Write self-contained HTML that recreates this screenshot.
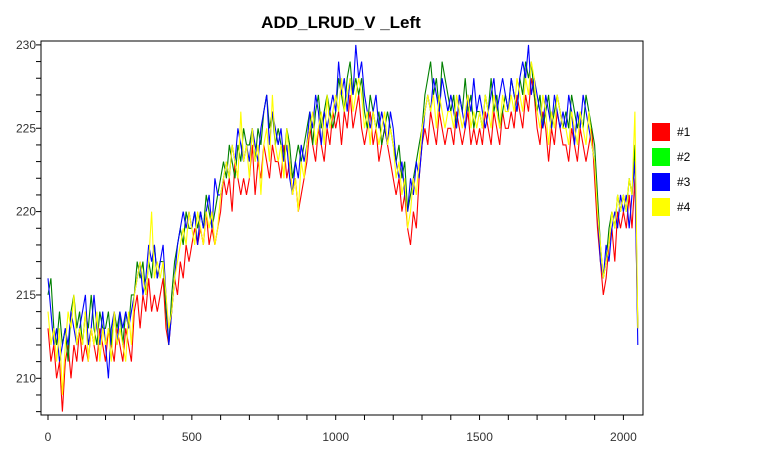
<!DOCTYPE html>
<html><head><meta charset="utf-8"><style>
body{margin:0;background:#fff;width:758px;height:450px;overflow:hidden;font-family:"Liberation Sans",sans-serif}
</style></head><body>
<svg id="c" width="758" height="450" xmlns="http://www.w3.org/2000/svg"></svg>
<script>
const step = 10;
const lastX = 2050;
const series1 = [213,211,212,210,211,208,211,212,210,212,
211,213,211,212,211,213,212,211,213,212,
211,213,212,211,213,212,211,213,212,211,
214,215,213,215,214,216,214,215,214,215,
216,213,212,214,216,215,217,216,218,217,
218,219,218,219,218,220,218,219,218,219,
220,222,221,222,220,223,222,221,222,221,
222,224,221,223,222,224,223,222,224,223,
223,222,224,222,223,221,222,220,221,222,
223,225,224,223,225,224,223,225,224,226,
225,226,224,226,225,227,225,226,227,225,
224,225,226,224,225,223,224,225,224,223,
222,221,222,220,221,219,218,220,219,222,
224,225,224,226,225,224,226,225,224,225,
225,224,226,225,224,225,226,224,225,224,
225,224,226,225,224,226,225,224,226,225,
225,226,225,227,226,225,227,226,228,227,
225,224,226,225,223,225,224,226,225,224,
224,223,225,224,223,225,224,223,224,225,
222,219,217,215,216,218,219,217,220,219,
220,219,221,219,222,213];
const series2 = [215,216,213,212,214,212,213,211,214,215,
213,214,212,214,213,215,213,212,214,213,
213,214,212,214,213,214,212,214,213,215,
215,217,216,217,215,217,216,218,216,217,
217,214,212,215,217,218,219,218,220,219,
219,220,219,220,219,221,220,219,220,221,
222,223,222,224,223,222,224,223,225,224,
224,225,223,225,224,226,227,225,226,224,
225,224,223,225,224,222,223,224,223,224,
225,226,224,226,227,225,226,227,226,225,
226,228,227,226,228,229,227,228,227,228,
226,225,227,226,225,226,224,225,226,225,
224,223,224,222,223,220,221,222,223,224,
225,227,228,229,227,228,226,229,228,227,
226,227,225,227,226,228,226,227,225,226,
226,225,227,226,228,226,227,225,226,227,
226,228,227,226,228,227,229,228,229,227,
226,227,225,226,227,225,226,227,226,225,
226,225,227,226,225,226,225,227,226,225,
224,221,218,216,217,219,220,219,221,220,
221,220,222,221,224,213];
const series3 = [216,214,212,213,211,212,213,212,214,213,
212,213,214,215,212,213,215,213,212,214,
212,210,213,214,212,214,213,214,213,214,
215,216,217,215,216,218,217,218,216,217,
218,215,212,214,216,218,219,220,219,220,
219,220,218,220,219,220,221,219,222,221,
221,222,223,222,224,223,225,224,223,224,
223,225,224,223,225,226,227,224,226,225,
224,225,223,224,222,221,223,222,224,223,
224,226,225,227,226,224,226,225,226,227,
226,229,227,228,226,228,227,230,228,229,
227,226,225,226,227,225,226,225,224,226,
225,223,222,223,221,220,222,221,223,222,
224,226,227,226,228,227,226,228,227,226,
227,226,225,227,226,225,227,226,228,226,
227,226,225,226,227,228,226,227,228,227,
226,228,227,226,228,229,228,230,227,228,
227,226,225,227,226,225,227,226,225,226,
225,227,226,224,226,225,227,226,225,224,
223,220,217,216,218,217,219,220,219,221,
220,221,219,221,223,212];
const series4 = [214,212,213,211,213,209,212,214,213,215,
212,213,212,214,211,213,212,214,211,213,
212,213,211,214,212,213,212,211,214,212,
215,216,217,216,215,217,220,216,217,216,
217,215,213,214,216,217,218,219,218,220,
219,218,220,219,218,220,219,220,218,219,
221,222,223,222,224,223,222,226,223,224,
222,225,223,224,221,224,225,223,227,224,
223,224,222,225,223,221,222,220,223,222,
224,225,226,224,225,226,224,227,225,226,
227,226,228,226,227,228,226,227,228,227,
225,226,224,226,225,224,225,226,224,225,
224,222,223,221,222,219,220,222,221,223,
225,226,227,226,227,225,227,226,225,226,
226,225,227,226,225,226,227,225,226,225,
226,225,227,226,225,227,226,225,227,226,
226,227,226,228,227,226,228,227,229,228,
226,225,227,226,224,226,225,227,226,225,
225,224,226,225,224,226,225,224,226,224,
223,220,218,216,217,218,220,219,221,220,
221,220,222,221,226,213];
const xTicks = [0,500,1000,1500,2000];
const yTicks = [210,215,220,225,230];
const seriesNames = ['#1','#2','#3','#4'];

const NS='http://www.w3.org/2000/svg';
const svg=document.getElementById('c');
const L=41,R=643,T=41,B=415;
const xs=v=>48+v*0.2877;
const ys=v=>378.3-(v-210)*16.67;
function mk(tag,attrs,parent){const e=document.createElementNS(NS,tag);for(const k in attrs)e.setAttribute(k,attrs[k]);(parent||svg).appendChild(e);return e;}

const title=mk('text',{x:341,y:28,'text-anchor':'middle','font-size':17,'font-weight':'bold',fill:'#000'});


title.textContent='ADD_LRUD_V _Left';

const frame=mk('rect',{x:L,y:T,width:R-L,height:B-T,fill:'#fff',stroke:'#000','stroke-width':1});



for(let v=208;v<=230;v++){
  const t=mk('line',{x1:L-5,x2:L,y1:ys(v),y2:ys(v),stroke:'#000'});
  
  
}
yTicks.forEach(v=>{
  const t=mk('text',{x:36,y:ys(v)+4,'text-anchor':'end','font-size':12,fill:'#333'});
  
  
  t.textContent=v;
});
for(let v=0;v<=2000;v+=100){
  const t=mk('line',{x1:xs(v),x2:xs(v),y1:B,y2:B+5,stroke:'#000'});
  
  
}
xTicks.forEach(v=>{
  const t=mk('text',{x:xs(v),y:441,'text-anchor':'middle','font-size':12,fill:'#333'});
  
  
  t.textContent=v;
});

const all=[series1,series2,series3,series4];
const lineColors=['#ff0000','#008000','#0000ff','#ffff00'];
const legendColors=['#ff0000','#00ff00','#0000ff','#ffff00'];
all.forEach((s,si)=>{
  const pts=s.map((v,i)=>{const x=(i===s.length-1)?lastX:i*step;return xs(x).toFixed(1)+','+ys(v).toFixed(1);}).join(' ');
  const p=mk('polyline',{points:pts,fill:'none',stroke:lineColors[si],'stroke-width':1.1});
  
  
});
seriesNames.forEach((n,i)=>{
  const g=mk('g',{});
  
  
  mk('rect',{x:652,y:123+i*25,width:18,height:18,fill:legendColors[i]},g);
  const t=mk('text',{x:677,y:136+i*25,'font-size':12,fill:'#000'},g);
  t.textContent=n;
});
</script>
</body></html>
